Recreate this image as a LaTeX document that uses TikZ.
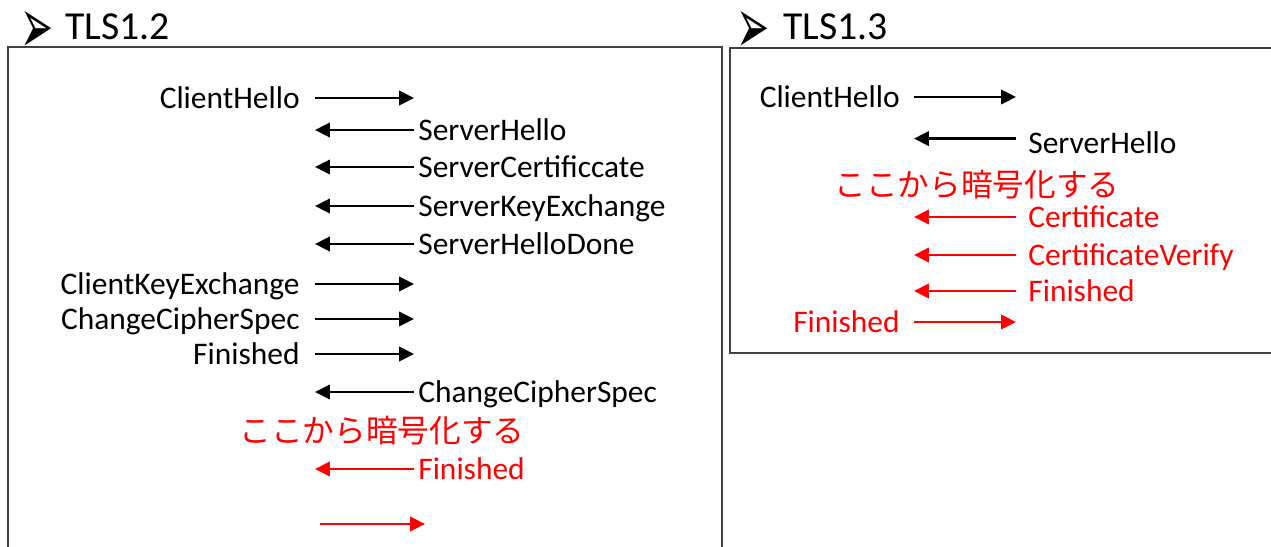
\documentclass[tikz,border=0pt]{standalone}
\usepackage{fontspec}
\setmainfont{Carlito}
\newfontfamily\jpfont{Noto Sans CJK JP}
\newfontfamily\symfont{DejaVu Sans}
\usetikzlibrary{arrows.meta}
\definecolor{boxgray}{RGB}{64,64,64}

\begin{document}
\begin{tikzpicture}[x=0.02cm,y=-0.02cm,
    msg/.style={inner sep=0pt,text height=12pt,text depth=0pt,font=\fontsize{17.9}{21}\selectfont},
    ttl/.style={inner sep=0pt,anchor=base west,font=\fontsize{22.6}{26}\selectfont},
    mrk/.style={inner sep=0pt,anchor=base west,text height=16pt,text depth=0pt,font=\symfont\fontsize{45}{48}\selectfont},
    jp/.style={inner sep=0pt,color=red,font=\jpfont\fontsize{18}{22}\selectfont},
    arr/.style={line width=1.45pt,-{Triangle[length=8.5pt,width=8.2pt]}},
    frame/.style={draw=boxgray,line width=0.85pt}]
    \useasboundingbox (0,0) rectangle (1271,547);
    \clip (0,0) rectangle (1271,547);
    % TLS1.2
    \node [mrk] (mk12) at (20,54) {\scalebox{0.5}[1]{➢}};
    \node [ttl] (tt12) at (65,40) {TLS1.2};
    \draw [frame] (8,560) -- (8,47) -- (722,47) -- (722,560);
    \coordinate (cl12) at (315,0);
    \coordinate (sv12) at (414,0);
    \node [msg,anchor=east] (ch12) at (300,98) {ClientHello};
    \draw [arr] (ch12 -| cl12) -- (ch12 -| sv12);
    \node [msg,anchor=west] (sh12) at (418,130) {ServerHello};
    \draw [arr] (sh12 -| sv12) -- (sh12 -| cl12);
    \node [msg,anchor=west] (sc12) at (418,167) {ServerCertificcate};
    \draw [arr] (sc12 -| sv12) -- (sc12 -| cl12);
    \node [msg,anchor=west] (sk12) at (418,206) {ServerKeyExchange};
    \draw [arr] (sk12 -| sv12) -- (sk12 -| cl12);
    \node [msg,anchor=west] (sd12) at (418,244) {ServerHelloDone};
    \draw [arr] (sd12 -| sv12) -- (sd12 -| cl12);
    \node [msg,anchor=east] (ck12) at (300,284) {ClientKeyExchange};
    \draw [arr] (ck12 -| cl12) -- (ck12 -| sv12);
    \node [msg,anchor=east] (cc12) at (300,319) {ChangeCipherSpec};
    \draw [arr] (cc12 -| cl12) -- (cc12 -| sv12);
    \node [msg,anchor=east] (cf12) at (300,354) {Finished};
    \draw [arr] (cf12 -| cl12) -- (cf12 -| sv12);
    \node [msg,anchor=west] (ss12) at (418,392) {ChangeCipherSpec};
    \draw [arr] (ss12 -| sv12) -- (ss12 -| cl12);
    \node [jp] (en12) at (382,431) {ここから暗号化する};
    \node [msg,anchor=west,color=red] (sf12) at (418,469) {Finished};
    \draw [arr,color=red] (sf12 -| sv12) -- (sf12 -| cl12);
    \coordinate (fa12) at (320,524);
    \coordinate (fb12) at (425,524);
    \draw [arr,color=red] (fa12) -- (fb12);
    % TLS1.3
    \node [mrk] (mk13) at (736,54) {\scalebox{0.5}[1]{➢}};
    \node [ttl] (tt13) at (783,40) {TLS1.3};
    \draw [frame] (1280,48) -- (730,48) -- (730,353) -- (1280,353);
    \coordinate (cl13) at (914,0);
    \coordinate (sv13) at (1016,0);
    \node [msg,anchor=east] (ch13) at (900,97) {ClientHello};
    \draw [arr] (ch13 -| cl13) -- (ch13 -| sv13);
    \node [msg,anchor=west] (sh13) at (1028,143) {ServerHello};
    \draw [arr] ([yshift=2.5pt]sh13.west -| sv13) -- ([yshift=2.5pt]sh13.west -| cl13);
    \node [jp] (en13) at (977,185) {ここから暗号化する};
    \node [msg,anchor=west,color=red] (ce13) at (1028,217) {Certificate};
    \draw [arr,color=red] (ce13 -| sv13) -- (ce13 -| cl13);
    \node [msg,anchor=west,color=red] (cv13) at (1028,255) {CertificateVerify};
    \draw [arr,color=red] (cv13 -| sv13) -- (cv13 -| cl13);
    \node [msg,anchor=west,color=red] (sf13) at (1028,291) {Finished};
    \draw [arr,color=red] (sf13 -| sv13) -- (sf13 -| cl13);
    \node [msg,anchor=east,color=red] (cf13) at (900,322) {Finished};
    \draw [arr,color=red] (cf13 -| cl13) -- (cf13 -| sv13);
\end{tikzpicture}
\end{document}
